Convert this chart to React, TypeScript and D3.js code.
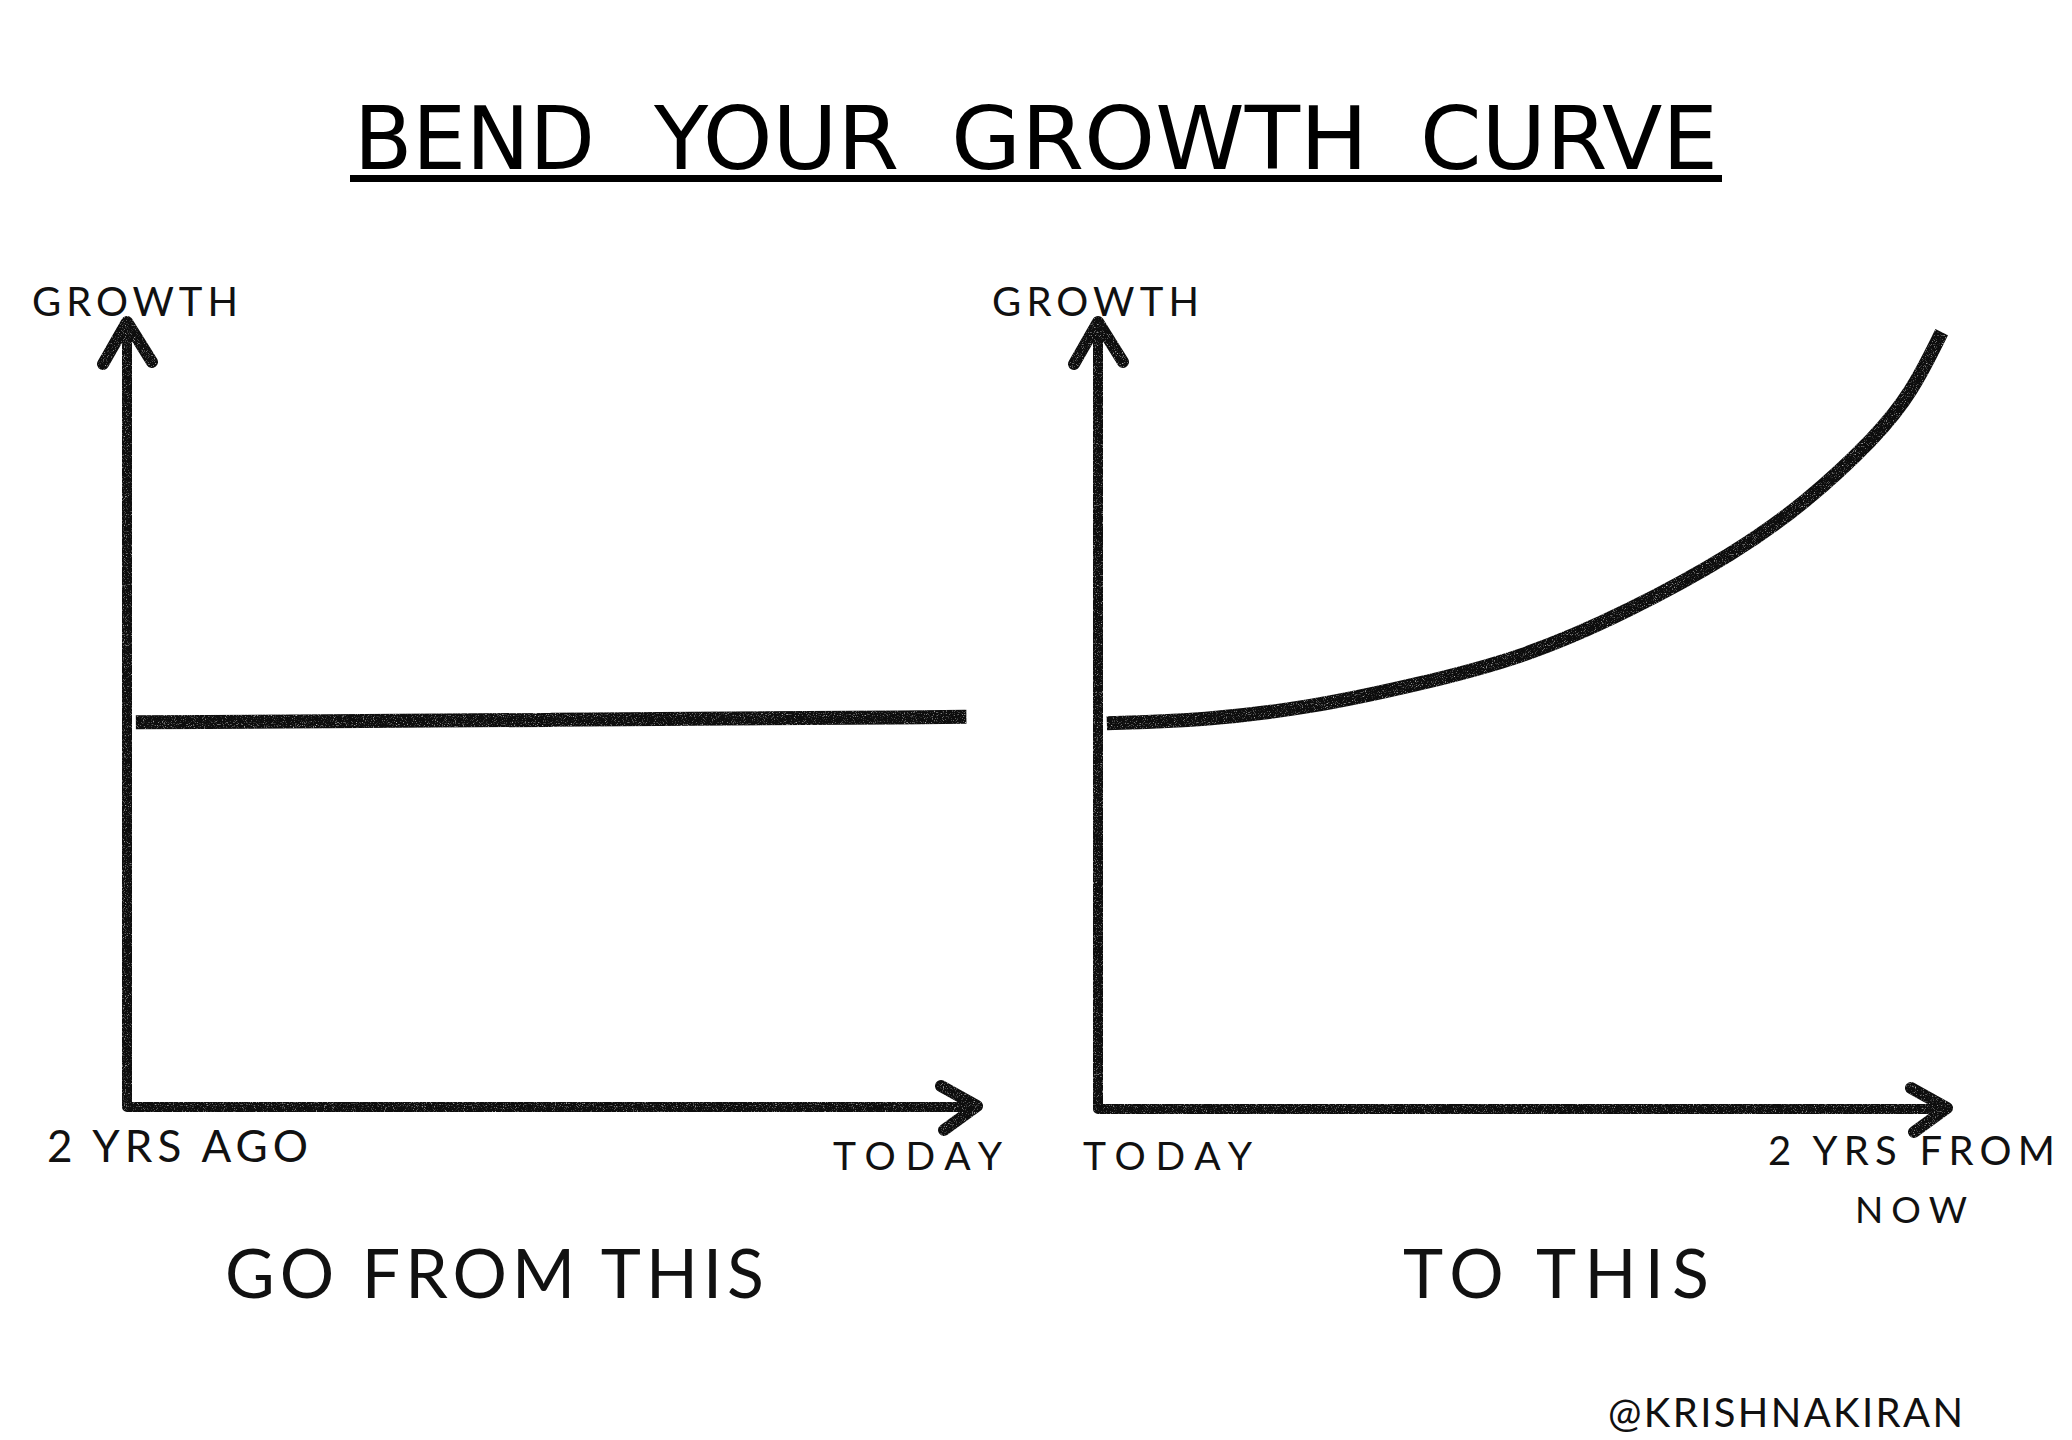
import React from "react";
import * as d3 from "d3";

// ---- data ----
const titleWords = ["BEND", "YOUR", "GROWTH", "CURVE"];
const yAxisLabel = "GROWTH";
const leftTickLabels = ["2 YRS AGO", "TODAY"];
const rightTickLabels = ["TODAY", "2 YRS FROM", "NOW"];
const captions = ["GO FROM THIS", "TO THIS"];
const credit = "@KRISHNAKIRAN";

// months elapsed within each 2-year window, growth on a 0-100 scale
const leftMonths = [0.25, 12, 23.7];
const leftGrowth = [49.0, 49.3, 49.7];
const rightMonths = [0.25, 3, 6, 9, 12, 15, 18, 20, 22, 23, 23.85];
const rightGrowth = [49.0, 49.4, 51.0, 53.9, 57.3, 63.2, 70.6, 77.0, 85.4, 91.0, 98.7];

const INK = "#111";
const FONT = "Lato, 'Open Sans', sans-serif";
const TITLE_FONT = "'DejaVu Sans Condensed', 'DejaVu Sans', sans-serif";
const titleBoxes = [[354, 241], [654, 245], [951, 417], [1420, 298]];

type Panel = {
  x0: number; x1: number; yBottom: number; yTop: number;
  months: number[]; growth: number[];
};

const panels: Panel[] = [
  { x0: 127, x1: 977, yBottom: 1107, yTop: 322, months: leftMonths, growth: leftGrowth },
  { x0: 1098, x1: 1947, yBottom: 1109, yTop: 322, months: rightMonths, growth: rightGrowth },
];

function PanelView({ p }: { p: Panel }) {
  const x = d3.scaleLinear().domain([0, 24]).range([p.x0, p.x1]);
  const y = d3.scaleLinear().domain([0, 100]).range([p.yBottom, p.yTop]);
  const pts = p.months.map((m, i) => [x(m), y(p.growth[i])] as [number, number]);
  const line = d3.line().curve(d3.curveBasis)(pts) || "";
  const ox = x(0), oy = y(0), tx = x(24), ty = y(100);
  const yArrow = `M${ox - 24},${ty + 42} L${ox},${ty} L${ox + 25},${ty + 40}`;
  const xArrow = `M${tx - 36},${oy - 21} L${tx},${oy - 1} L${tx - 33},${oy + 23}`;
  return (
    <g filter="url(#pencil)" fill="none" stroke={INK} strokeLinecap="round" strokeLinejoin="round">
      <path d={`M${ox},${ty + 4} L${ox},${oy} L${tx},${oy}`} strokeWidth={10} strokeLinecap="butt" />
      <path d={yArrow} strokeWidth={12} />
      <path d={xArrow} strokeWidth={12} />
      <path d={line} strokeWidth={14} strokeLinecap="butt" />
    </g>
  );
}

export default function App() {
  const label = (t: string, x: number, yb: number, size: number, len: number) => (
    <text x={x} y={yb} fontSize={size} fontFamily={FONT} fill="#111"
      textLength={len} lengthAdjust="spacing">{t}</text>
  );
  return (
    <svg width={2072} height={1440} style={{ position: "absolute", left: 0, top: 0, background: "#fff" }}>
      <defs>
        <filter id="pencil" filterUnits="userSpaceOnUse" x={0} y={0} width={2072} height={1440}>
          <feTurbulence type="fractalNoise" baseFrequency="0.9" numOctaves={2} seed={3} result="noise" />
          <feColorMatrix in="noise" type="matrix"
            values="0 0 0 0 0  0 0 0 0 0  0 0 0 0 0  0 0 0 -2.2 2.25" result="mask" />
          <feComposite in="SourceGraphic" in2="mask" operator="in" result="tex" />
          <feGaussianBlur in="tex" stdDeviation="0.5" />
        </filter>
      </defs>
      <rect width={2072} height={1440} fill="#fff" />
      {titleWords.map((w, i) => (
        <text key={w} x={titleBoxes[i][0]} y={169} fontSize={88} fontFamily={TITLE_FONT}
          fontStretch="condensed" fill="#000" textLength={titleBoxes[i][1]}
          lengthAdjust="spacingAndGlyphs">{w}</text>
      ))}
      <rect x={350} y={175} width={1372} height={7} fill="#000" />

      {panels.map((p, i) => <PanelView key={i} p={p} />)}

      {label(yAxisLabel, 32, 316, 40, 206)}
      {label(yAxisLabel, 992, 316, 40, 207)}
      {label(leftTickLabels[0], 47, 1162, 44, 261)}
      {label(leftTickLabels[1], 833, 1170, 39, 169)}
      {label(rightTickLabels[0], 1083, 1170, 39, 169)}
      {label(rightTickLabels[1], 1768, 1165, 40, 287)}
      {label(rightTickLabels[2], 1855, 1223, 37, 112)}
      {label(captions[0], 225, 1298, 68, 539)}
      {label(captions[1], 1403, 1298, 68, 306)}
      {label(credit, 1608, 1427, 40, 355)}
    </svg>
  );
}
